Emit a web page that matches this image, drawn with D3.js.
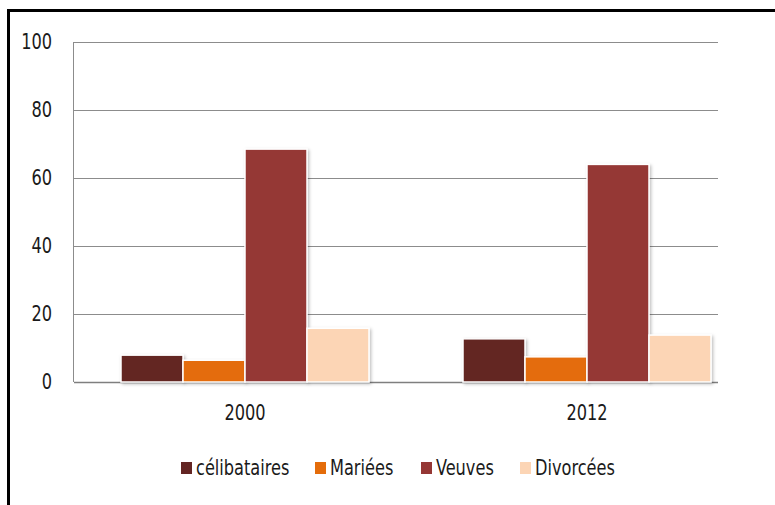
<!DOCTYPE html>
<html>
<head>
<meta charset="utf-8">
<script src="https://cdn.jsdelivr.net/npm/d3@7"></script>
<style>
  body { margin: 0; background: #fff; }
  svg { display: block; }
</style>
</head>
<body>
<div id="chart"></div>
<script>
// data
var years = ['2000', '2012'];
var statuts = ['célibataires', 'Mariées', 'Veuves', 'Divorcées'];
var celibataires = [7.9, 12.7];
var mariees = [6.4, 7.4];
var veuves = [68.5, 64.0];
var divorcees = [15.8, 13.8];
var yTicks = [0, 20, 40, 60, 80, 100];
var colors = ['#632523', '#e46c0a', '#953735', '#fcd5b5'];

var series = [celibataires, mariees, veuves, divorcees];
var rows = years.map(function (y, i) {
    return { year: y, values: series.map(function (s) { return s[i]; }) };
});

var W = 775, H = 505;
var margin = { top: 42, left: 74, plotRight: 718 };
var font = '"DejaVu Sans Condensed", "Liberation Sans", sans-serif';
var fs = 18;
var stretch = 'scale(1,1.15)';

var svg = d3.select('#chart').append('svg')
    .attr('width', W)
    .attr('height', H)
    .style('font-family', font);

// soft shadow under the bars
var defs = svg.append('defs');
var f = defs.append('filter').attr('id', 'shadow')
    .attr('x', '-10%').attr('y', '-10%').attr('width', '130%').attr('height', '130%');
f.append('feDropShadow')
    .attr('dx', 1.5).attr('dy', 1.5).attr('stdDeviation', 1.5)
    .attr('flood-color', '#000').attr('flood-opacity', 0.25);

// frame (top and left only)
svg.append('line').attr('x1', 7).attr('x2', W).attr('y1', 10.5).attr('y2', 10.5)
    .attr('stroke', '#000').attr('stroke-width', 3);
svg.append('line').attr('x1', 8.5).attr('x2', 8.5).attr('y1', 9).attr('y2', H)
    .attr('stroke', '#000').attr('stroke-width', 3);

var y = d3.scaleLinear().domain([0, 100]).range([382, margin.top]);
var x0 = d3.scaleBand().domain(years).range([margin.left, 758]).paddingInner(0).paddingOuter(0);
var x1 = d3.scaleBand().domain(statuts).range([0, 248]);
var groupOffset = (x0.bandwidth() - 248) / 2;

// gridlines
svg.append('g').selectAll('line').data(yTicks).join('line')
    .attr('x1', margin.left).attr('x2', margin.plotRight)
    .attr('y1', function (d) { return Math.round(y(d)) + 0.5; })
    .attr('y2', function (d) { return Math.round(y(d)) + 0.5; })
    .attr('stroke', function (d) { return d === 0 ? '#7f7f7f' : '#8c8c8c'; })
    .attr('stroke-width', function (d) { return d === 0 ? 1.5 : 1; });

svg.append('line').attr('x1', margin.left - 0.5).attr('x2', margin.left - 0.5)
    .attr('y1', y(100)).attr('y2', y(0))
    .attr('stroke', '#8c8c8c');

// y tick labels
svg.append('g').selectAll('g').data(yTicks).join('g')
    .attr('transform', function (d) { return 'translate(52,' + y(d) + ')'; })
    .append('text')
    .attr('transform', stretch)
    .attr('dy', '0.35em')
    .attr('text-anchor', 'end')
    .attr('font-size', fs)
    .attr('fill', '#1a1a1a')
    .text(function (d) { return d; });

// bars
var groups = svg.append('g').selectAll('g').data(rows).join('g')
    .attr('transform', function (d) { return 'translate(' + (x0(d.year) + groupOffset) + ',0)'; });

groups.selectAll('rect').data(function (d) {
        return d.values.map(function (v, i) { return { key: statuts[i], value: v, i: i }; });
    }).join('rect')
    .attr('x', function (d) { return x1(d.key); })
    .attr('y', function (d) { return y(d.value); })
    .attr('width', x1.bandwidth())
    .attr('height', function (d) { return y(0) - y(d.value); })
    .attr('fill', function (d) { return colors[d.i]; })
    .attr('stroke', '#fff')
    .attr('stroke-width', 1.5)
    .attr('filter', 'url(#shadow)');

// category labels
svg.append('g').selectAll('g').data(years).join('g')
    .attr('transform', function (d) { return 'translate(' + (x0(d) + x0.bandwidth() / 2) + ',413)'; })
    .append('text')
    .attr('transform', stretch)
    .attr('dy', '0.35em')
    .attr('text-anchor', 'middle')
    .attr('font-size', fs)
    .attr('fill', '#1a1a1a')
    .text(function (d) { return d; });

// legend
var legendX = [181, 315, 421, 520];
var legend = svg.append('g').selectAll('g').data(statuts).join('g')
    .attr('transform', function (d, i) { return 'translate(' + legendX[i] + ',468)'; });
legend.append('rect')
    .attr('x', 0).attr('y', -6).attr('width', 11).attr('height', 12)
    .attr('fill', function (d, i) { return colors[i]; });
legend.append('text')
    .attr('transform', 'translate(15,0) ' + stretch)
    .attr('dy', '0.35em')
    .attr('font-size', fs)
    .attr('fill', '#1a1a1a')
    .text(function (d) { return d; });
</script>
</body>
</html>
